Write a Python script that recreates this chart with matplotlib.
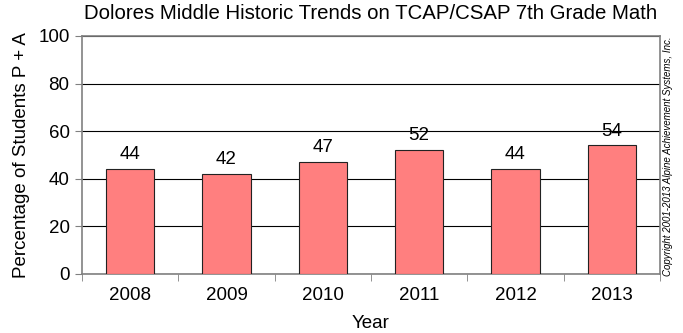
import matplotlib
matplotlib.use('Agg')
import matplotlib.pyplot as plt
import numpy as np

plt.rcParams['font.family'] = ['Liberation Sans', 'DejaVu Sans']

# データ
years = ['2008', '2009', '2010', '2011', '2012', '2013']
values = [44, 42, 47, 52, 44, 54]

fig = plt.figure(figsize=(6.83, 3.33), dpi=100)
ax = fig.add_axes([82 / 683, 1 - 274 / 333, 578 / 683, 238 / 333])

x = np.arange(len(years))
bars = ax.bar(x, values, width=0.5, color='#ff7f7f', edgecolor='#222222',
              linewidth=0.8, zorder=3)

# ラベル
for xi, v in zip(x, values):
    ax.text(xi, v + 2.5, str(v), ha='center', va='bottom', fontsize=13.5)

ax.set_xlim(-0.5, len(years) - 0.5)
ax.set_ylim(0, 100)
ax.set_yticks([0, 20, 40, 60, 80, 100])
ax.set_xticks(x)
ax.set_xticklabels(years)
ax.set_xticks(np.arange(-0.5, len(years)), minor=True)
ax.tick_params(axis='x', which='major', length=0, labelsize=13.5, pad=9.5)
ax.tick_params(axis='x', which='minor', length=5, color='#808080', direction='out')
ax.tick_params(axis='y', length=5, color='#808080', labelsize=13.5, pad=4)

# グリッド
ax.grid(axis='y', color='black', linewidth=0.8, zorder=0)
for s in ax.spines.values():
    s.set_color('#808080')
    s.set_linewidth(1.2)

ax.set_title('Dolores Middle Historic Trends on TCAP/CSAP 7th Grade Math',
             fontsize=14.7, pad=12)
ax.set_xlabel('Year', fontsize=13.5, labelpad=7.5)
ax.set_ylabel('Percentage of Students P + A', fontsize=13.5, labelpad=6)

fig.text(668 / 683, 0.53, 'Copyright 2001-2013 Alpine Achievement Systems, Inc.',
         rotation=90, ha='center', va='center', fontsize=7, style='italic')

plt.savefig('out.png', dpi=100)
